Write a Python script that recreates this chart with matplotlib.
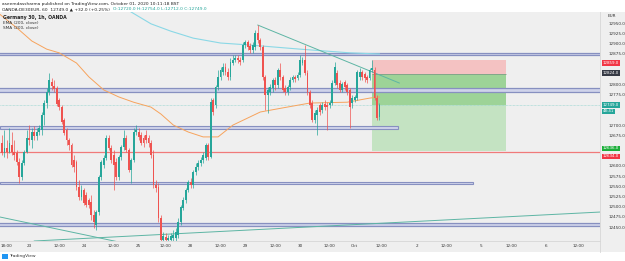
import matplotlib
matplotlib.use('Agg')
import matplotlib.pyplot as plt
from matplotlib.patches import Rectangle
from matplotlib.lines import Line2D

# hourly candles, Germany 30 (OANDA), 22 Sep -> 01 Oct 2020
opens = [12656, 12631, 12643, 12634, 12651, 12634, 12631, 12609, 12573, 12607,
         12634, 12668, 12663, 12683, 12673, 12683, 12688, 12724, 12754, 12781,
         12805, 12795, 12790, 12761, 12744, 12712, 12688, 12663, 12651, 12614,
         12609, 12548, 12524, 12541, 12529, 12516, 12512, 12480, 12455, 12487,
         12573, 12602, 12619, 12668, 12643, 12626, 12609, 12573, 12622, 12646,
         12668, 12639, 12590, 12614, 12683, 12683, 12675, 12668, 12675, 12668,
         12656, 12626, 12553, 12548, 12472, 12419, 12426, 12419, 12419, 12423,
         12423, 12431, 12463, 12497, 12516, 12541, 12560, 12553, 12585, 12597,
         12607, 12614, 12619, 12651, 12622, 12761, 12749, 12793, 12818, 12830,
         12842, 12830, 12818, 12852, 12859, 12864, 12859, 12859, 12896, 12903,
         12894, 12884, 12891, 12925, 12908, 12891, 12818, 12774, 12781, 12790,
         12810, 12798, 12835, 12818, 12790, 12781, 12793, 12810, 12818, 12815,
         12823, 12852, 12859, 12827, 12781, 12754, 12712, 12725, 12749, 12737,
         12752, 12749, 12749, 12754, 12803, 12827, 12803, 12786, 12805, 12798,
         12786, 12754, 12761, 12766, 12818, 12830, 12825, 12818, 12815, 12835,
         12835, 12766, 12720]
closes = [12631, 12643, 12634, 12656, 12634, 12626, 12609, 12573, 12607, 12634,
          12668, 12663, 12683, 12673, 12683, 12693, 12724, 12754, 12781, 12810,
          12795, 12788, 12751, 12744, 12707, 12680, 12663, 12651, 12602, 12597,
          12548, 12524, 12541, 12509, 12504, 12504, 12480, 12463, 12487, 12573,
          12609, 12619, 12668, 12643, 12614, 12602, 12573, 12622, 12646, 12668,
          12639, 12590, 12614, 12683, 12688, 12671, 12656, 12656, 12663, 12656,
          12626, 12553, 12546, 12472, 12419, 12428, 12419, 12423, 12428, 12431,
          12438, 12463, 12499, 12516, 12541, 12560, 12553, 12585, 12597, 12607,
          12614, 12626, 12651, 12622, 12756, 12732, 12793, 12818, 12835, 12842,
          12830, 12818, 12854, 12859, 12864, 12859, 12854, 12896, 12903, 12891,
          12884, 12896, 12925, 12908, 12891, 12818, 12774, 12786, 12793, 12810,
          12798, 12835, 12818, 12786, 12781, 12793, 12810, 12818, 12813, 12823,
          12859, 12859, 12827, 12781, 12749, 12712, 12730, 12737, 12732, 12749,
          12744, 12744, 12754, 12803, 12842, 12798, 12786, 12801, 12793, 12781,
          12744, 12766, 12769, 12830, 12830, 12818, 12815, 12810, 12835, 12840,
          12766, 12717, 12749]
highs = [12675, 12688, 12663, 12693, 12683, 12663, 12639, 12619, 12614, 12639,
         12688, 12700, 12693, 12698, 12693, 12700, 12732, 12761, 12790, 12827,
         12815, 12810, 12795, 12766, 12749, 12717, 12693, 12668, 12656, 12626,
         12614, 12565, 12553, 12546, 12536, 12521, 12529, 12492, 12492, 12578,
         12614, 12626, 12675, 12675, 12651, 12639, 12619, 12626, 12651, 12688,
         12675, 12643, 12619, 12693, 12700, 12693, 12683, 12675, 12688, 12675,
         12663, 12639, 12565, 12558, 12480, 12438, 12436, 12431, 12436, 12443,
         12448, 12472, 12504, 12524, 12546, 12565, 12570, 12590, 12607, 12614,
         12622, 12634, 12656, 12656, 12766, 12766, 12798, 12835, 12842, 12852,
         12852, 12840, 12864, 12872, 12872, 12872, 12866, 12903, 12908, 12908,
         12901, 12903, 12933, 12945, 12913, 12896, 12823, 12793, 12800, 12815,
         12818, 12840, 12852, 12823, 12798, 12798, 12818, 12823, 12823, 12830,
         12872, 12866, 12896, 12835, 12786, 12761, 12737, 12744, 12754, 12756,
         12761, 12756, 12761, 12810, 12854, 12835, 12810, 12805, 12810, 12803,
         12790, 12774, 12774, 12835, 12840, 12835, 12830, 12823, 12840, 12859,
         12842, 12774, 12754]
lows = [12626, 12621, 12619, 12631, 12626, 12614, 12602, 12558, 12565, 12602,
        12631, 12651, 12643, 12663, 12663, 12675, 12675, 12700, 12741, 12773,
        12786, 12781, 12746, 12736, 12702, 12675, 12651, 12639, 12597, 12585,
        12541, 12516, 12516, 12504, 12499, 12497, 12467, 12448, 12443, 12480,
        12565, 12595, 12614, 12639, 12607, 12541, 12565, 12565, 12614, 12639,
        12634, 12585, 12558, 12609, 12675, 12663, 12651, 12646, 12656, 12646,
        12619, 12546, 12536, 12462, 12404, 12406, 12409, 12406, 12409, 12409,
        12414, 12423, 12455, 12492, 12509, 12536, 12546, 12546, 12578, 12590,
        12599, 12607, 12614, 12614, 12619, 12724, 12741, 12786, 12810, 12823,
        12823, 12810, 12810, 12847, 12854, 12852, 12847, 12854, 12889, 12884,
        12877, 12877, 12884, 12901, 12884, 12810, 12737, 12730, 12774, 12781,
        12786, 12791, 12810, 12781, 12774, 12774, 12786, 12805, 12805, 12810,
        12818, 12847, 12823, 12774, 12742, 12707, 12705, 12676, 12724, 12730,
        12737, 12688, 12742, 12749, 12798, 12791, 12781, 12781, 12786, 12774,
        12693, 12742, 12756, 12761, 12810, 12810, 12805, 12803, 12810, 12830,
        12761, 12712, 12712]

# moving averages (bar index, value)
ema_idx = [-1, 6, 12, 18, 23, 30, 35, 41, 47, 53, 60, 64, 69, 75, 81, 87, 93, 104, 113, 124, 139, 148, 152]
ema_val = [12972, 12938, 12906, 12886, 12877, 12852, 12818, 12786, 12769, 12756, 12744, 12727, 12700,
           12683, 12671, 12671, 12700, 12732, 12742, 12754, 12756, 12766, 12769]
sma_idx = [44, 52, 60, 68, 77, 88, 100, 120, 140, 152]
sma_val = [13010, 12977, 12948, 12930, 12913, 12901, 12896, 12886, 12877, 12874]

# drawings
trend_top = ([103, 160], [12945, 12803])
trend_down = ([-1, 60], [12475, 12397])
trend_up = ([13, 241], [12416, 12487])
zones_full = [(12872, 12877), (12781, 12791), (12452, 12460)]
zones_box = [(12690, 12698, 159.5), (12555, 12561, 189.7)]
red_level = 12634
pos_start, pos_end = 149, 203
pos_entry, pos_stop, pos_target = 12824, 12859, 12636

price_ticks = [12450, 12475, 12500, 12525, 12550, 12575, 12600, 12625, 12650, 12675, 12700,
               12725, 12750, 12775, 12800, 12825, 12850, 12875, 12900, 12925, 12950]
time_pos = [2, 11, 23, 33, 45, 55, 66, 76, 88, 98, 110, 120, 132, 142, 153, 167, 179, 193, 205, 219, 232]
time_labels = ['18:00', '23', '12:00', '24', '12:00', '25', '12:00', '28', '12:00', '29', '12:00',
               '30', '12:00', 'Oct', '12:00', '2', '12:00', '5', '12:00', '6', '12:00']

UP, DOWN = '#26a69a', '#ef5350'
BG = '#efefef'
W, H = 625, 261

fig = plt.figure(figsize=(W / 100, H / 100), dpi=100)
fig.patch.set_facecolor('white')
fig.add_artist(Rectangle((0, (H - 252) / H), 1, 240 / H, transform=fig.transFigure,
                         fc=BG, ec='none', zorder=0))
ax = fig.add_axes([0, (H - 241) / H, 600 / W, 229 / H])
ax.set_facecolor(BG)
ax.set_xlim(-0.8, 240.8)
ax.set_ylim(12416, 12977)
for s in ax.spines.values():
    s.set_visible(False)

# position tool
ax.add_patch(Rectangle((pos_start, pos_entry), pos_end - pos_start, pos_stop - pos_entry,
                       fc='#f4c2c2', ec='none', zorder=1))
ax.add_patch(Rectangle((pos_start, pos_target), pos_end - pos_start, pos_entry - pos_target,
                       fc='#c4e3c2', ec='none', zorder=1))
ax.add_patch(Rectangle((pos_start, closes[-1]), pos_end - pos_start, pos_entry - closes[-1],
                       fc='#9dd397', ec='none', zorder=1))
ax.hlines(pos_entry, pos_start, pos_end, color='#7f9f88', lw=0.6, zorder=2)

# horizontal zones
for lo, hi in zones_full:
    ax.axhspan(lo, hi, fc='#cfd3ea', ec='none', zorder=2)
    ax.axhline(lo, color='#8790c0', lw=0.9, zorder=2)
    ax.axhline(hi, color='#8790c0', lw=0.9, zorder=2)
for lo, hi, end in zones_box:
    ax.add_patch(Rectangle((-1, lo), end + 1, hi - lo, fc='#cfd3ea', ec='#8790c0', lw=0.8, zorder=2))
ax.axhline(red_level, color='#f07a7a', lw=0.9, zorder=2)
ax.axhline(closes[-1], color='#8fd3ce', lw=0.5, ls=(0, (1, 1)), zorder=2)

# moving averages and trend lines
ax.plot(ema_idx, ema_val, color='#f7a35c', lw=0.7, zorder=3)
ax.plot(sma_idx, sma_val, color='#8ad8e6', lw=0.8, zorder=3)
for xs, ys in (trend_top, trend_down, trend_up):
    ax.plot(xs, ys, color='#5db5a4', lw=0.7, zorder=3)

# candles
idx = list(range(len(closes)))
cols = [UP if c >= o else DOWN for o, c in zip(opens, closes)]
ax.vlines(idx, lows, highs, colors=cols, lw=0.5, zorder=4)
ax.bar(idx, [c - o for o, c in zip(opens, closes)], bottom=opens, width=0.75,
       color=cols, lw=0, zorder=5)

# price axis tags: (price, text, colour, offset in points)
tags = [(pos_stop, f'{pos_stop:.1f}', '#f23645', -2),
        (pos_entry, f'{pos_entry:.1f}', '#363a45', 1),
        (closes[-1], f'{closes[-1]:.1f}', UP, 0),
        (closes[-1], '48:41', UP, -4.4),
        (pos_target, f'{pos_target:.1f}', '#1cae3a', 2),
        (red_level, f'{red_level:.1f}', '#f23645', -3)]

# hide the scale labels that sit under a tag
to_px = lambda p: ax.transData.transform((0, p))[1]
labels = []
for p in price_ticks:
    hidden = any(abs(to_px(p) - (to_px(tp) + dy * 100 / 72)) < 4.5 for tp, _, _, dy in tags)
    labels.append('' if hidden else f'{p:.1f}')
ax.set_yticks(price_ticks)
ax.set_yticklabels(labels)
ax.tick_params(axis='y', left=False, right=False, labelleft=False, labelright=True,
               pad=3, labelsize=3, labelcolor='#333333')
ax.set_xticks(time_pos)
ax.set_xticklabels(time_labels)
ax.tick_params(axis='x', length=0, pad=2.5, labelsize=3, labelcolor='#333333')

for tp, txt, fc, dy in tags:
    ax.annotate(txt, xy=(1, tp), xycoords=ax.get_yaxis_transform(),
                xytext=(2.2, dy), textcoords='offset points', fontsize=2.9, color='white',
                va='center', ha='left', annotation_clip=False, zorder=10,
                bbox=dict(boxstyle='square,pad=0.15', fc=fc, ec='none'))

fig.add_artist(Line2D([600 / W, 600 / W], [(H - 252) / H, (H - 12) / H],
                      transform=fig.transFigure, color='#d6d6d6', lw=0.6))
fig.add_artist(Line2D([0, 600 / W], [(H - 241) / H] * 2,
                      transform=fig.transFigure, color='#d6d6d6', lw=0.6))
fig.text(612 / W, 1 - 16 / H, 'EUR', fontsize=3, color='#333333', ha='center', va='center')

# header and legend
fig.text(2 / W, 1 - 3.5 / H, 'aseemdassharma published on TradingView.com, October 01, 2020 10:11:18 BST',
         fontsize=3.2, color='#222222', va='center')
chg = closes[-1] - closes[-2]
head = fig.text(2 / W, 1 - 9.5 / H,
                f'OANDA:DE30EUR, 60  {closes[-1]:.1f} \u25b2 +{chg:.1f} (+{chg / closes[-2] * 100:.2f}%) ',
                fontsize=3.2, color='#222222', va='center')
renderer = fig.canvas.get_renderer()
x_end = head.get_window_extent(renderer).x1
fig.text(x_end / W + 1.5 / W, 1 - 9.5 / H,
         f'O:{opens[-1]:.1f} H:{highs[-1]:.1f} L:{lows[-1]:.1f} C:{closes[-1]:.1f}',
         fontsize=3.2, color='#26a69a', va='center')
fig.text(3 / W, 1 - 17 / H, 'Germany 30, 1h, OANDA', fontsize=3.3, color='#222222',
         va='center', fontweight='bold')
fig.text(3 / W, 1 - 22.5 / H, 'EMA (200, close)', fontsize=3.1, color='#333333', va='center')
fig.text(3 / W, 1 - 28 / H, 'SMA (200, close)', fontsize=3.1, color='#333333', va='center')

fig.add_artist(Rectangle((2 / W, 1 - 259 / H), 6 / W, 5 / H, transform=fig.transFigure,
                         fc='#2196f3', ec='none'))
fig.text(9 / W, 1 - 256.5 / H, 'TradingView', fontsize=3.2, color='#333333', va='center')

fig.savefig('out.png', dpi=100)
